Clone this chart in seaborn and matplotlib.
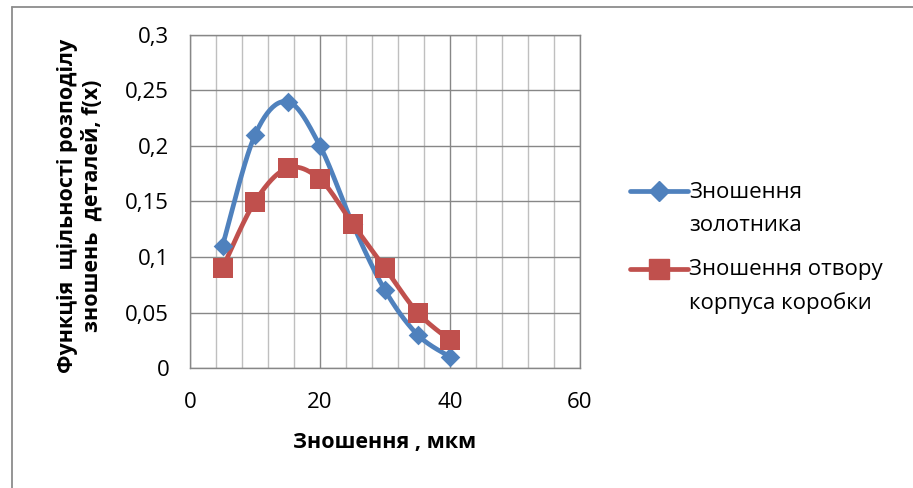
import matplotlib
matplotlib.use("Agg")
import matplotlib.pyplot as plt
from matplotlib.lines import Line2D
from matplotlib.ticker import MultipleLocator, FuncFormatter
import numpy as np
import seaborn as sns

sns.set_style("white")
plt.rcParams["font.family"] = ["Open Sans", "DejaVu Sans"]
plt.rcParams["text.color"] = "black"
plt.rcParams["axes.labelcolor"] = "black"

# data
wear = [5, 10, 15, 20, 25, 30, 35, 40]
spool = [0.11, 0.21, 0.24, 0.20, 0.13, 0.07, 0.03, 0.01]
bore = [0.09, 0.15, 0.18, 0.17, 0.13, 0.09, 0.05, 0.025]
labels = ["Зношення\nзолотника", "Зношення отвору\nкорпуса коробки"]

BLUE = "#4F81BD"
RED = "#C0504D"
GRID = "#878787"
MINOR = "#BFBFBF"


def smooth(xs, ys, n=25):
    # Excel-style smoothed line (Catmull-Rom as cubic Bezier)
    p = np.column_stack([xs, ys]).astype(float)
    out = []
    for i in range(len(p) - 1):
        p0 = p[i - 1] if i > 0 else p[i]
        p1, p2 = p[i], p[i + 1]
        p3 = p[i + 2] if i + 2 < len(p) else p[i + 1]
        c1 = p1 + (p2 - p0) / 6
        c2 = p2 - (p3 - p1) / 6
        t = np.linspace(0, 1, n)[:, None]
        seg = ((1 - t) ** 3) * p1 + 3 * ((1 - t) ** 2) * t * c1 + 3 * (1 - t) * t ** 2 * c2 + t ** 3 * p2
        out.append(seg if i == 0 else seg[1:])
    s = np.vstack(out)
    return s[:, 0], s[:, 1]


fig = plt.figure(figsize=(9.13, 4.88), dpi=100)
ax = fig.add_axes([190 / 913, 120 / 488, 390 / 913, 333 / 488])

for ys, col, mk, sz in [(spool, BLUE, "D", 100), (bore, RED, "s", 210)]:
    sx, sy = smooth(wear, ys)
    sns.lineplot(x=sx, y=sy, sort=False, estimator=None, color=col, lw=3.4, ax=ax, zorder=3)
    sns.scatterplot(x=wear, y=ys, marker=mk, s=sz, color=col, edgecolor=col, linewidth=0, ax=ax, zorder=4)

ax.set_xlim(0, 60)
ax.set_ylim(0, 0.3)
ax.xaxis.set_major_locator(MultipleLocator(20))
ax.xaxis.set_minor_locator(MultipleLocator(4))
ax.yaxis.set_major_locator(MultipleLocator(0.05))
fmt = FuncFormatter(lambda v, _: f"{round(v, 3):g}".replace(".", ","))
ax.yaxis.set_major_formatter(fmt)
ax.xaxis.set_major_formatter(fmt)

ax.grid(which="major", color=GRID, lw=1.0, zorder=0)
ax.grid(which="minor", axis="x", color=MINOR, lw=1.0, zorder=0)
ax.set_axisbelow(True)
for sp in ax.spines.values():
    sp.set_color(GRID)
    sp.set_linewidth(1.0)
ax.tick_params(which="major", direction="inout", length=10, width=1, color=GRID,
               labelsize=16, labelcolor="black")
ax.tick_params(axis="y", pad=10)
ax.tick_params(axis="x", pad=12)
ax.tick_params(which="minor", length=0)

ax.set_xlabel("Зношення , мкм", fontsize=15.5, fontweight="bold", labelpad=14)
ax.set_ylabel("")
fig.text(80 / 913, 1 - 206 / 488, "Функція  щільності розподілу\nзношень  деталей, f(x)",
         rotation=90, ha="center", va="center", fontsize=15.5, fontweight="bold",
         multialignment="center", linespacing=1.2)

handles = [Line2D([], [], color=BLUE, lw=3.4, marker="D", markersize=10),
           Line2D([], [], color=RED, lw=3.4, marker="s", markersize=14)]
leg = fig.legend(handles, labels, loc="upper left", bbox_to_anchor=(630 / 913, 1 - 182 / 488),
                 frameon=False, fontsize=16, handlelength=2.6, handletextpad=0.05,
                 labelspacing=1.05, borderpad=0, borderaxespad=0)
for t in leg.get_texts():
    t.set_linespacing(1.72)
    t.set_color("black")
for h in leg.legend_handles:
    h.set_ydata(np.asarray(h.get_ydata()) + 13)

# outer chart frame (left and top edges visible)
fig.add_artist(Line2D([12 / 913, 12 / 913], [0, 1 - 7 / 488], transform=fig.transFigure, color="#8C8C8C", lw=1.3))
fig.add_artist(Line2D([12 / 913, 1], [1 - 7 / 488, 1 - 7 / 488], transform=fig.transFigure, color="#8C8C8C", lw=1.3))

fig.savefig("out.png", dpi=100)
